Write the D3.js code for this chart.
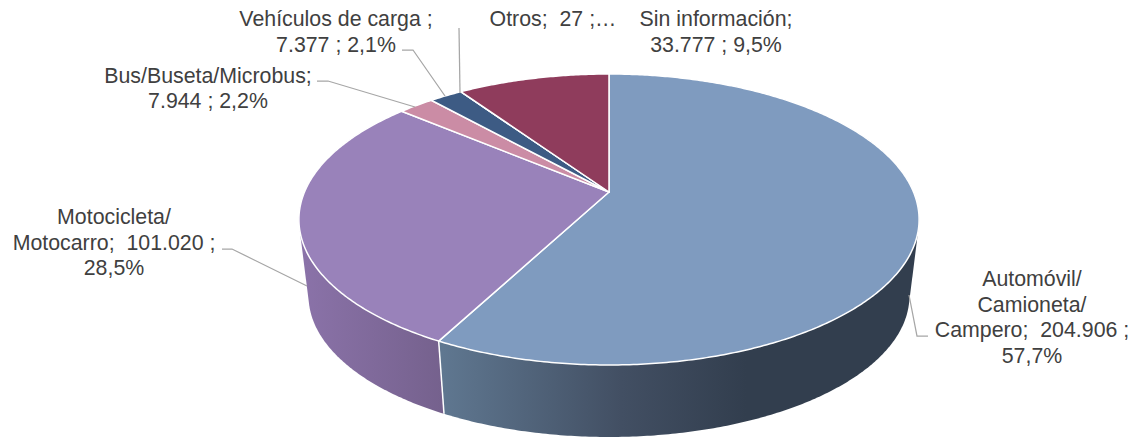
<!DOCTYPE html>
<html>
<head>
<meta charset="utf-8">
<script src="https://cdn.jsdelivr.net/npm/d3@7"></script>
<style>
body { margin: 0; background: #fff; }
text { font-family: "Liberation Sans", Arial, sans-serif; font-size: 21.33px; fill: #404040; white-space: pre; }
</style>
</head>
<body>
<script>
var categories = ["Automóvil/Camioneta/Campero", "Motocicleta/Motocarro", "Bus/Buseta/Microbus", "Vehículos de carga", "Otros", "Sin información"];
var values = [204906, 101020, 7944, 7377, 27, 33777];
var colors = ["#7f9bbf", "#9982ba", "#cb8ca5", "#3d5b84", "#3d5b84", "#8f3c5c"];
var labelLines = [
    ["Automóvil/", "Camioneta/", "Campero;  204.906 ;", "57,7%"],
    ["Motocicleta/", "Motocarro;  101.020 ;", "28,5%"],
    ["Bus/Buseta/Microbus;", "7.944 ; 2,2%"],
    ["Vehículos de carga ;", "7.377 ; 2,1%"],
    ["Otros;  27 ;…"],
    ["Sin información;", "33.777 ; 9,5%"]
];

// label centre x and first baseline
var labelX = [1032, 114, 208, 336, 553, 716];
var labelY = [286, 224, 83, 26, 26, 26];
var lineStep = [25.7, 25.5, 25, 26, 26, 26];
var leaders = [
    [[928, 336], [917, 336], [909, 295]],
    [[222, 249], [232, 249], [307, 286]],
    [[317, 81], [328, 81], [415, 107]],
    [[402, 50], [413, 50], [445, 96]],
    [[459, 28], [460, 93]],
    []
];

var width = 1132, height = 438;
var pi = Math.PI;

var svg = d3.select("body").append("svg")
    .attr("width", width)
    .attr("height", height);

// the disc is seen in perspective, so the centre is not the middle of the ellipse
var persp = -0.189;
var topDisc = { cx: 609, cy: 192, a: 304.5, b: 140.3 };
var botDisc = { cx: 609, cy: 269.3, a: 295, b: 136 };

var project = function(disc, angle){
    var u = Math.sin(angle);
    var v = -Math.cos(angle);
    var w = 1 + persp * v;
    return [disc.cx + disc.a * u / w, disc.cy + disc.b * v / w];
}

var arcPoints = function(disc, from, to){
    var n = Math.max(2, Math.ceil((to - from) / 0.01));
    return d3.range(n + 1).map(function(i){
	return project(disc, from + (to - from) * i / n);
    });
}

var line = d3.line();

var slices = d3.pie().sort(null).startAngle(0).endAngle(2 * pi)(values);

var defs = svg.append("defs");

var addGradient = function(id, x1, x2, stops){
    var g = defs.append("linearGradient")
	.attr("id", id)
	.attr("gradientUnits", "userSpaceOnUse")
	.attr("x1", x1).attr("y1", 0)
	.attr("x2", x2).attr("y2", 0);
    stops.forEach(function(s){
	g.append("stop").attr("offset", s[0]).attr("stop-color", s[1]);
    });
}

addGradient("wall0", 443, 800, [[0, "#5f7790"], [0.5, "#424f63"], [0.85, "#323e4e"], [1, "#323e4e"]]);
addGradient("wall1", 305, 443, [[0, "#8a72a8"], [1, "#75618d"]]);

// walls, only the front part of the disc shows. hull gives the straight side edges
var wallFrom = pi / 3, wallTo = pi * 5 / 3;
slices.forEach(function(d, i){
    var from = Math.max(d.startAngle, wallFrom);
    var to = Math.min(d.endAngle, wallTo);
    if (to <= from) return;
    var pts = d3.polygonHull(arcPoints(topDisc, from, to).concat(arcPoints(botDisc, from, to)));
    svg.append("path")
	.attr("d", line(pts) + "Z")
	.attr("fill", "url(#wall" + i + ")");
});

// white line between the two visible walls
slices.forEach(function(d){
    if (d.endAngle > wallFrom && d.endAngle < wallTo) {
	svg.append("path")
	    .attr("d", line([project(topDisc, d.endAngle), project(botDisc, d.endAngle)]))
	    .attr("stroke", "#fff")
	    .attr("stroke-width", 1.5)
	    .attr("fill", "none");
    }
});

// top face
svg.selectAll(".slice")
    .data(slices)
    .enter().append("path")
    .attr("class", "slice")
    .attr("d", function(d){
	var c = [topDisc.cx, topDisc.cy];
	return line([c].concat(arcPoints(topDisc, d.startAngle, d.endAngle))) + "Z";
    })
    .attr("fill", function(d, i){ return colors[i]; })
    .attr("stroke", "#fff")
    .attr("stroke-width", 1.5)
    .attr("stroke-linejoin", "round");

// leader lines
leaders.forEach(function(p){
    if (p.length == 0) return;
    svg.append("path")
	.attr("d", line(p))
	.attr("fill", "none")
	.attr("stroke", "#a6a6a6")
	.attr("stroke-width", 1.25);
});

// labels
labelLines.forEach(function(lines, i){
    var t = svg.append("text")
	.attr("text-anchor", "middle")
	.attr("data-category", categories[i]);
    lines.forEach(function(s, j){
	t.append("tspan")
	    .attr("x", labelX[i])
	    .attr("y", labelY[i] + j * lineStep[i])
	    .text(s);
    });
});
</script>
</body>
</html>
